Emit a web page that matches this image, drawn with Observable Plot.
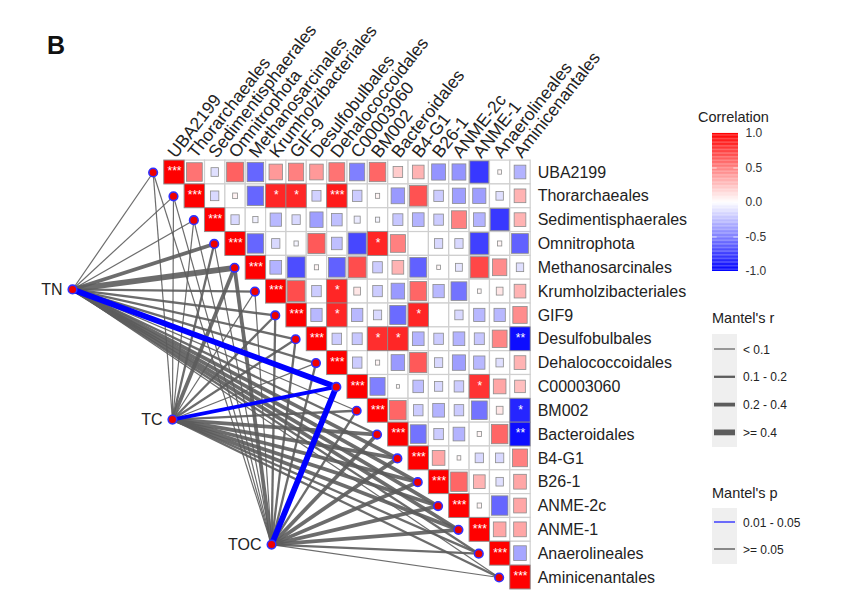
<!DOCTYPE html>
<html><head><meta charset="utf-8">
<script src="https://cdn.jsdelivr.net/npm/d3@7"></script>
<script src="https://cdn.jsdelivr.net/npm/@observablehq/plot@0.6"></script>
<style>
body{margin:0;background:#fff;font-family:"Liberation Sans",Arial,sans-serif;}
#wrap{position:relative;width:843px;height:613px;overflow:hidden;background:#fff;}
#wrap > *{position:absolute;left:0;top:0;}
</style></head><body><div id="wrap"></div>
<script>
// ---------- data ----------
const taxa = ["UBA2199","Thorarchaeales","Sedimentisphaerales","Omnitrophota","Methanosarcinales",
  "Krumholzibacteriales","GIF9","Desulfobulbales","Dehalococcoidales","C00003060","BM002",
  "Bacteroidales","B4-G1","B26-1","ANME-2c","ANME-1","Anaerolineales","Aminicenantales"];
const colLabels = ["UBA2199","Thorarchaeales","Sedimentisphaerales","Omnitrophota","Methanosarcinales",
  "Krumholzibacteriales","GIF-9","Desulfobulbales","Dehalococcoidales","C00003060","BM002",
  "Bacteroidales","B4-G1","B26-1","ANME-2c","ANME-1","Anaerolineales","Aminicenantales"];
// upper triangle correlations, row i holds columns i+1 .. 17
const corrRows = [
  [0.55,-0.12,0.62,-0.6,0.4,0.5,0.4,0.55,-0.5,0.6,0.2,0.3,-0.42,-0.42,-0.78,0.03,-0.3],
  [-0.15,0.05,-0.6,0.85,0.85,-0.18,0.9,-0.2,0.04,-0.4,0.68,-0.2,-0.38,-0.38,-0.12,0.3],
  [-0.15,-0.06,-0.28,-0.15,-0.38,-0.25,-0.08,-0.04,-0.22,-0.3,-0.2,0.5,-0.3,-0.78,0.3],
  [-0.6,-0.15,-0.04,0.65,-0.25,-0.72,0.85,0.5,0.0,-0.15,-0.15,-0.75,0.04,-0.62],
  [-0.3,-0.7,0.04,-0.62,0.7,-0.2,0.3,-0.62,0.03,-0.1,0.72,0.45,-0.12],
  [0.7,-0.2,0.85,0.1,-0.2,-0.4,0.6,-0.28,-0.55,0.03,0.1,0.3],
  [-0.28,0.85,-0.28,-0.15,-0.58,0.85,0.0,-0.15,-0.28,-0.28,0.45],
  [-0.2,-0.22,0.82,0.85,-0.3,-0.2,-0.3,-0.22,0.48,-0.95],
  [-0.2,0.04,-0.4,0.65,-0.15,-0.38,-0.28,-0.12,0.3],
  [-0.5,0.02,-0.25,-0.15,-0.2,0.8,0.35,0.25],
  [0.6,-0.2,-0.3,-0.2,-0.55,0.1,-0.85],
  [-0.55,-0.2,-0.3,0.04,0.6,-0.95],
  [0.35,0.03,-0.15,-0.15,0.5],
  [0.6,0.3,-0.12,0.35],
  [0.04,-0.6,0.35],
  [0.35,0.35],
  [-0.35],
  []
];
// significance marks off the diagonal: [row, col, stars]
const sigRow = [1,1,1,3,5,6,6,7,7,7,9,10,11];
const sigCol = [5,6,8,10,8,8,12,10,11,17,15,17,17];
const sigStars = ["*","*","***","*","*","*","*","*","*","**","*","*","**"];
// Mantel tests
const envs = ["TN","TC","TOC"];
const envX = [-5.01,-0.1,4.77];
const envY = [4.91,10.37,15.62];
const mantelR = {
  TN:  [0.05,0.05,0.08,0.3,0.45,0.15,0.12,0.15,0.12,0.45,0.08,0.15,0.25,0.3,0.25,0.3,0.15,0.08],
  TC:  [0.05,0.08,0.05,0.12,0.3,0.08,0.12,0.15,0.08,0.3,0.15,0.25,0.3,0.3,0.3,0.35,0.15,0.12],
  TOC: [0.05,0.05,0.08,0.08,0.25,0.08,0.12,0.12,0.15,0.45,0.15,0.2,0.25,0.25,0.3,0.3,0.12,0.08]
};
const mantelP = {
  TN:  [0.4,0.5,0.3,0.1,0.07,0.2,0.3,0.2,0.3,0.03,0.4,0.2,0.1,0.1,0.1,0.08,0.2,0.4],
  TC:  [0.5,0.4,0.5,0.3,0.1,0.4,0.3,0.2,0.4,0.04,0.2,0.1,0.1,0.1,0.1,0.08,0.2,0.3],
  TOC: [0.5,0.5,0.4,0.4,0.1,0.4,0.3,0.3,0.2,0.02,0.2,0.15,0.1,0.1,0.1,0.08,0.3,0.4]
};
const rBreaks = [0.1,0.2,0.4];
const rWidths = [1.2,2.3,3.8,5.8];
const rLabels = ["< 0.1","0.1 - 0.2","0.2 - 0.4",">= 0.4"];
const pLabels = ["0.01 - 0.05",">= 0.05"];
const corrTicks = [-1,-0.5,0,0.5,1];

// ---------- derived tables ----------
const sigMap = new Map(sigRow.map((r,k)=>[r+"-"+sigCol[k], sigStars[k]]));
const cells = [];
for (let i=0;i<taxa.length;i++){
  for (let j=i;j<taxa.length;j++){
    const r = i===j ? 1 : corrRows[i][j-i-1];
    const st = i===j ? "***" : (sigMap.get(i+"-"+j) || "");
    const s = st ? 1 : Math.min(1, Math.sqrt(Math.abs(r))*1.05);
    cells.push({i,j,r,st,s});
  }
}
const links = [];
envs.forEach((e,k)=>{
  taxa.forEach((t,j)=>{
    const r = mantelR[e][j], p = mantelP[e][j];
    const w = rWidths[d3.bisectRight(rBreaks, r)];
    links.push({ex:envX[k], ey:envY[k], j, r, p, w});
  });
});
const nodeOffset = 1.05;

const colorOpts = {type:"linear", domain:[-1,0,1], range:["#0000ff","#ffffff","#ff0000"], interpolate:"rgb"};
const font = "Liberation Sans, Arial, Helvetica, sans-serif";

const main = Plot.plot({
  width:843, height:613, margin:0,
  x:{domain:[0,17], range:[174,520], axis:null},
  y:{domain:[0,17], range:[172,577], axis:null},
  color: colorOpts,
  style:{fontFamily:font, background:"transparent", overflow:"visible"},
  marks:[
    Plot.link(links.filter(d=>d.p>=0.05), {x1:"ex", y1:"ey", x2:d=>d.j-nodeOffset, y2:"j",
      stroke:"#5c5c5c", strokeOpacity:0.9, strokeWidth:d=>d.w}),
    Plot.link(links.filter(d=>d.p<0.05), {x1:"ex", y1:"ey", x2:d=>d.j-nodeOffset, y2:"j",
      stroke:"#0000ff", strokeWidth:d=>d.w}),
    Plot.rect(cells, {x1:d=>d.j-0.5, x2:d=>d.j+0.5, y1:d=>d.i-0.5, y2:d=>d.i+0.5,
      fill:"white", stroke:"#cfcfcf", strokeWidth:1.2}),
    Plot.rect(cells, {x1:d=>d.j-d.s/2, x2:d=>d.j+d.s/2, y1:d=>d.i-d.s/2, y2:d=>d.i+d.s/2,
      fill:d=>d.r, stroke:"#8c8c8c", strokeWidth:0.8}),
    Plot.text(cells.filter(d=>d.st), {x:"j", y:"i", text:"st", fill:"white", fontSize:12, dy:-1}),
    Plot.dot(taxa, {x:(d,j)=>j-nodeOffset, y:(d,j)=>j, r:4.3, fill:"#ee0000", stroke:"#3030ff", strokeWidth:1.6}),
    Plot.dot(envs, {x:(d,k)=>envX[k], y:(d,k)=>envY[k], r:4.3, fill:"#ee0000", stroke:"#3030ff", strokeWidth:1.6}),
    Plot.text(taxa, {x:17.5, y:(d,i)=>i, text:d=>d, textAnchor:"start", dx:7, fontSize:16, fill:"#222"}),
    Plot.text(colLabels, {x:(d,i)=>i, y:-0.5, text:d=>d, textAnchor:"start", rotate:-52, dx:-3, dy:-5, fontSize:17.5, fill:"#222"}),
    Plot.text(envs, {x:(d,k)=>envX[k], y:(d,k)=>envY[k], text:d=>d, textAnchor:"end", dx:-10, fontSize:16, fill:"#222"})
  ]
});
const wrap = document.getElementById("wrap");
wrap.appendChild(main);

// colour bar
const steps = d3.range(-1, 1, 0.02);
const bar = Plot.plot({
  width:75, height:158, marginLeft:0, marginRight:49, marginTop:9, marginBottom:11,
  x:{domain:[0,1], axis:null},
  y:{domain:[-1,1], axis:"right", ticks:corrTicks, tickFormat:d=>d.toFixed(1), tickSize:0, tickPadding:7, label:null},
  color: colorOpts,
  style:{fontFamily:font, fontSize:"12px", color:"#333", background:"transparent", overflow:"visible"},
  marks:[
    Plot.rect(steps, {x1:0, x2:1, y1:d=>d, y2:d=>d+0.021, fill:d=>d+0.01}),
    Plot.ruleY(corrTicks.slice(1,4), {x1:0, x2:0.18, stroke:"white", strokeOpacity:0.7}),
    Plot.ruleY(corrTicks.slice(1,4), {x1:0.82, x2:1, stroke:"white", strokeOpacity:0.7})
  ]
});
bar.style.left = "712px"; bar.style.top = "124px";
wrap.appendChild(bar);

// annotations and Mantel legends
const svg = d3.select(wrap).append("svg").attr("width",843).attr("height",613)
  .style("font-family", font).style("pointer-events","none");
svg.append("text").attr("x",47).attr("y",54).attr("font-size",25).attr("font-weight","bold").attr("fill","#111").text("B");
svg.append("text").attr("x",698).attr("y",122).attr("font-size",14.5).attr("fill","#222").text("Correlation");
svg.append("text").attr("x",712).attr("y",323).attr("font-size",14.5).attr("fill","#222").text("Mantel's r");
svg.append("rect").attr("x",712).attr("y",334).attr("width",25).attr("height",113).attr("fill","#efefef");
rLabels.forEach((t,k)=>{
  const y = 349 + k*27.8;
  svg.append("line").attr("x1",714).attr("x2",735).attr("y1",y).attr("y2",y)
    .attr("stroke","#5c5c5c").attr("stroke-width",rWidths[k]);
  svg.append("text").attr("x",743).attr("y",y+4.5).attr("font-size",12).attr("fill","#222").text(t);
});
svg.append("text").attr("x",712).attr("y",498).attr("font-size",14.5).attr("fill","#222").text("Mantel's p");
svg.append("rect").attr("x",712).attr("y",508).attr("width",25).attr("height",56).attr("fill","#efefef");
pLabels.forEach((t,k)=>{
  const y = 522 + k*27;
  svg.append("line").attr("x1",714).attr("x2",735).attr("y1",y).attr("y2",y)
    .attr("stroke", k===0 ? "#3333ff" : "#5c5c5c").attr("stroke-width",1.4);
  svg.append("text").attr("x",743).attr("y",y+4.5).attr("font-size",12).attr("fill","#222").text(t);
});
</script></body></html>
